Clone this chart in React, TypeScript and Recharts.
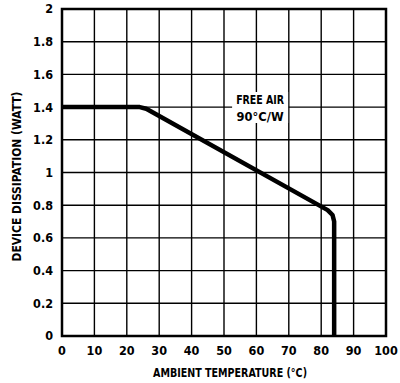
import React from 'react';
import { LineChart, Line, XAxis, YAxis, CartesianGrid, ReferenceArea } from 'recharts';

const xTicks = [0, 10, 20, 30, 40, 50, 60, 70, 80, 90, 100];
const yTicks = [0, 0.2, 0.4, 0.6, 0.8, 1, 1.2, 1.4, 1.6, 1.8, 2];
const temps = [0, 24, 26, 82, 83.5, 84, 84];
const watts = [1.4, 1.4, 1.39, 0.77, 0.74, 0.7, 0];
const data = temps.map((t, i) => ({ t, w: watts[i] }));

const FONT = "'Liberation Sans Narrow', 'Arial Narrow', 'DejaVu Sans Condensed', 'Liberation Sans', sans-serif";

const AnnotLabel = (props: any) => {
  const vb = props.viewBox || {};
  const cx = vb.x + vb.width / 2;
  return (
    <g>
      <text x={cx} y={vb.y + 12} textAnchor="middle" fontFamily={FONT} fontWeight="bold" fontSize={12.5} fill="#000" textLength={48} lengthAdjust="spacingAndGlyphs">FREE AIR</text>
      <text x={cx} y={vb.y + 29} textAnchor="middle" fontFamily={FONT} fontWeight="bold" fontSize={12.5} fill="#000" textLength={47} lengthAdjust="spacingAndGlyphs">90°C/W</text>
    </g>
  );
};

const XTitle = (props: any) => {
  const vb = props.viewBox || {};
  return (
    <text x={vb.x + vb.width / 2 + 6} y={vb.y + 41} textAnchor="middle" fontFamily={FONT} fontWeight="bold" fontSize={12.5} fill="#000" textLength={154} lengthAdjust="spacingAndGlyphs">AMBIENT TEMPERATURE (°C)</text>
  );
};

const YTitle = (props: any) => {
  const vb = props.viewBox || {};
  const cy = vb.y + vb.height / 2 + 4;
  const x = 21;
  return (
    <text x={x} y={cy} transform={`rotate(-90, ${x}, ${cy})`} textAnchor="middle" fontFamily={FONT} fontWeight="bold" fontSize={12.5} fill="#000" textLength={170} lengthAdjust="spacingAndGlyphs">DEVICE DISSIPATION (WATT)</text>
  );
};

export default function App() {
  return (
    <div style={{ position: 'absolute', left: 0, top: 0, width: 400, height: 383, background: '#fff' }}>
      <LineChart width={400} height={383} data={data} margin={{ top: 9, right: 14, bottom: 0, left: 0 }}>
        <CartesianGrid stroke="#000" strokeWidth={1.4} horizontalValues={yTicks} verticalValues={xTicks} />
        <XAxis
          dataKey="t"
          type="number"
          domain={[0, 100]}
          ticks={xTicks}
          interval={0}
          height={47}
          tickSize={0}
          tickMargin={10}
          axisLine={false}
          tickLine={false}
          tick={{ fill: '#000', fontFamily: FONT, fontWeight: 'bold', fontSize: 12.5 }}
          label={<XTitle />}
        />
        <YAxis
          type="number"
          domain={[0, 2]}
          ticks={yTicks}
          interval={0}
          width={62}
          tickSize={0}
          tickMargin={9}
          axisLine={false}
          tickLine={false}
          tick={{ fill: '#000', fontFamily: FONT, fontWeight: 'bold', fontSize: 12.5 }}
          label={<YTitle />}
        />
        <ReferenceArea x1={52.5} x2={69.8} y1={1.303} y2={1.492} fill="#fff" fillOpacity={1} stroke="none" label={<AnnotLabel />} />
        <ReferenceArea x1={0} x2={100} y1={0} y2={2} fill="none" stroke="#000" strokeWidth={2.5} />
        <Line dataKey="w" type="linear" stroke="#000" strokeWidth={4.5} dot={false} isAnimationActive={false} strokeLinejoin="round" />
      </LineChart>
    </div>
  );
}
